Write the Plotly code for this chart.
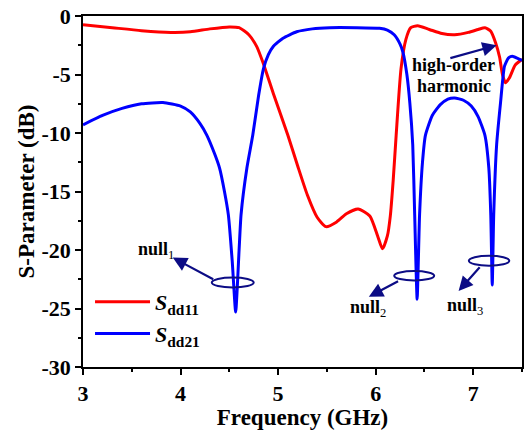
import plotly.graph_objects as go

# ---- data ----
freq_s11 = [3.0, 3.3, 3.6, 3.9, 4.1, 4.3, 4.5, 4.6, 4.7, 4.78, 4.85, 4.95, 5.1, 5.2, 5.3,
            5.4, 5.49, 5.6, 5.7, 5.82, 5.94, 6.02, 6.07, 6.12, 6.15, 6.18, 6.21, 6.26,
            6.31, 6.36, 6.43, 6.55, 6.68, 6.81, 6.95, 7.05, 7.12, 7.18, 7.23, 7.27, 7.3,
            7.33, 7.37, 7.43, 7.5]
s_dd11 = [-0.75, -1.0, -1.25, -1.4, -1.35, -1.1, -0.93, -1.0, -1.6, -2.6, -4.1, -6.6, -10.2,
          -12.8, -15.3, -17.2, -18.0, -17.6, -16.9, -16.5, -17.1, -18.8, -19.9, -18.8, -17.1,
          -14.0, -10.2, -4.5, -2.0, -1.0, -0.83, -1.15, -1.5, -1.6, -1.4, -1.15, -1.0, -1.3,
          -2.3, -3.5, -5.0, -5.7, -5.3, -4.2, -3.7]

freq_s21 = [3.0, 3.2, 3.4, 3.6, 3.82, 4.0, 4.1, 4.2, 4.27, 4.35, 4.4, 4.45, 4.49, 4.53,
            4.565, 4.6, 4.62, 4.68, 4.74, 4.8, 4.85, 4.9, 4.95, 5.05, 5.19, 5.35, 5.53,
            5.8, 6.04, 6.12, 6.19, 6.25, 6.28, 6.32, 6.35, 6.38, 6.40, 6.425, 6.45, 6.48,
            6.51, 6.58, 6.66, 6.74, 6.81, 6.9, 6.98, 7.05, 7.12, 7.16, 7.18, 7.195, 7.21,
            7.24, 7.28, 7.32, 7.36, 7.4, 7.45, 7.5]
s_dd21 = [-9.3, -8.5, -7.9, -7.5, -7.4, -7.7, -8.2, -9.2, -10.2, -11.8, -13.0, -15.0, -17.0,
          -21.0, -25.3, -20.0, -17.0, -13.0, -10.2, -6.8, -4.5, -3.3, -2.6, -1.9, -1.35, -1.1,
          -1.0, -1.0, -1.05, -1.2, -1.6, -2.4, -3.1, -5.0, -7.4, -11.0, -17.0, -24.2, -17.0,
          -12.5, -10.2, -8.5, -7.6, -7.1, -7.0, -7.2, -7.7, -8.6, -10.2, -13.0, -17.0, -23.0,
          -17.0, -11.0, -7.4, -4.3, -3.6, -3.45, -3.6, -3.8]

x_ticks = [3, 4, 5, 6, 7]
y_ticks = [0, -5, -10, -15, -20, -25, -30]

navy = "#0c0c85"
FONT = "Liberation Serif"

fig = go.Figure()
fig.add_trace(go.Scatter(x=freq_s11, y=s_dd11, mode="lines",
                         line=dict(color="#ff0000", width=3, shape="spline", smoothing=0.6),
                         name="<b><i>S</i><sub>dd11</sub></b>"))
fig.add_trace(go.Scatter(x=freq_s21, y=s_dd21, mode="lines",
                         line=dict(color="#0000ff", width=3, shape="spline", smoothing=0.5),
                         name="<b><i>S</i><sub>dd21</sub></b>"))

# ellipses around nulls
for (x0, x1, y0, y1) in [(4.32, 4.75, -23.2, -22.35),
                         (6.19, 6.60, -22.6, -21.8),
                         (6.955, 7.37, -21.35, -20.5)]:
    fig.add_shape(type="circle", xref="x", yref="y", x0=x0, x1=x1, y0=y0, y1=y1,
                  line=dict(color=navy, width=2))

# arrows (head at x,y ; tail at ax,ay)
for (hx, hy, tx, ty) in [(3.92, -20.65, 4.35, -22.57),
                         (5.93, -24.0, 6.245, -22.6),
                         (6.85, -23.5, 7.08, -21.35),
                         (7.24, -2.5, 6.75, -3.64)]:
    fig.add_annotation(x=hx, y=hy, ax=tx, ay=ty, xref="x", yref="y", axref="x", ayref="y",
                       text="", showarrow=True, arrowhead=2, arrowsize=1.3, arrowwidth=2.2,
                       arrowcolor=navy)

labels = [(3.745, -20.0, "<b>null</b><sub>1</sub>"),
          (5.92, -25.0, "<b>null</b><sub>2</sub>"),
          (6.92, -24.8, "<b>null</b><sub>3</sub>"),
          (6.80, -4.15, "<b>high-order</b>"),
          (6.80, -5.95, "<b>harmonic</b>")]
for (lx, ly, t) in labels:
    fig.add_annotation(x=lx, y=ly, xref="x", yref="y", text=t, showarrow=False,
                       font=dict(family=FONT, size=18, color="black"))

fig.update_layout(
    width=528, height=430,
    margin=dict(l=83, r=4, t=13, b=63),
    paper_bgcolor="white", plot_bgcolor="white",
    font=dict(family=FONT, color="black"),
    showlegend=True,
    legend=dict(x=0.016, y=0.034, xanchor="left", yanchor="bottom",
                bgcolor="rgba(0,0,0,0)", font=dict(family=FONT, size=22),
                itemwidth=55, tracegroupgap=0),
    xaxis=dict(range=[3, 7.5], tickvals=x_ticks, ticktext=[f"<b>{v}</b>" for v in x_ticks],
               ticks="outside", ticklen=6, tickwidth=1.5, tickcolor="black",
               minor=dict(ticks="outside", ticklen=3, dtick=0.5, tickwidth=1.5, tickcolor="black"),
               showline=True, linecolor="black", linewidth=1.5, mirror=True,
               showgrid=False, zeroline=False,
               tickfont=dict(family=FONT, size=22),
               title=dict(text="<b>Frequency (GHz)</b>", font=dict(family=FONT, size=23), standoff=4)),
    yaxis=dict(range=[-30, 0], tickvals=y_ticks, ticktext=[f"<b>{v}</b>" for v in y_ticks],
               ticks="outside", ticklen=6, tickwidth=1.5, tickcolor="black",
               minor=dict(ticks="outside", ticklen=3, dtick=2.5, tickwidth=1.5, tickcolor="black"),
               showline=True, linecolor="black", linewidth=1.5, mirror=True,
               showgrid=False, zeroline=False,
               tickfont=dict(family=FONT, size=22),
               title=dict(text="<b>S-Parameter (dB)</b>", font=dict(family=FONT, size=23), standoff=0)),
)

fig.write_html("out.html")
